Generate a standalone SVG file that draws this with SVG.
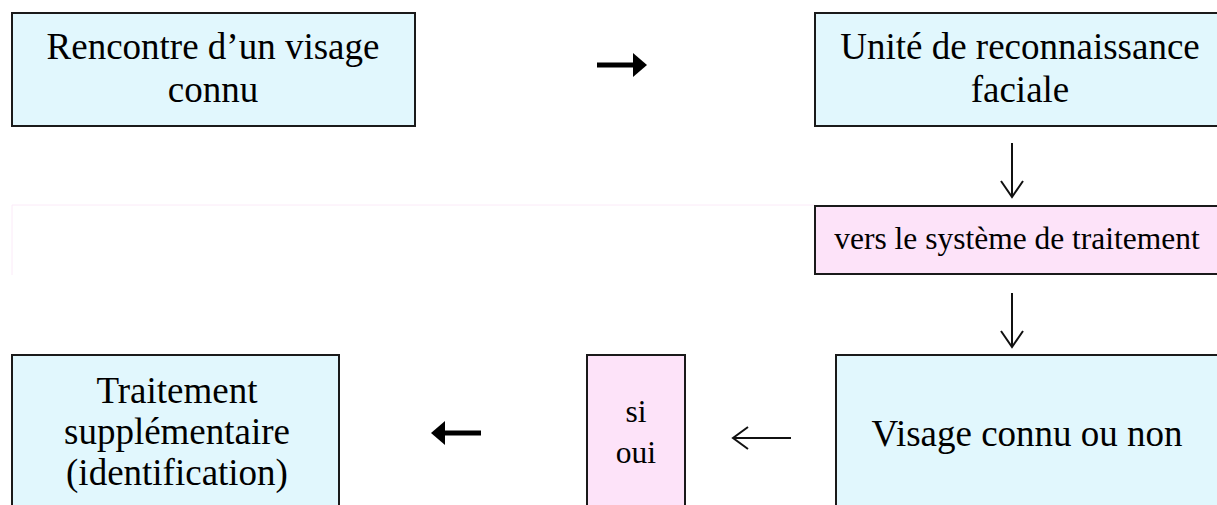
<svg xmlns="http://www.w3.org/2000/svg" width="1217" height="505" viewBox="0 0 1217 505">
<style>
.box{stroke:#1a1a1a;stroke-width:2}
.cyan{fill:#e1f7fd}
.pink{fill:#fde3f9}
text{font-family:"Liberation Serif","Times New Roman",serif;fill:#000;text-anchor:middle}
.big{font-size:37px}
.small{font-size:31.5px}
.thin{stroke:#111;stroke-width:2;fill:none}
.thick{stroke:#000;stroke-width:5;fill:none}
</style>
<rect width="1217" height="505" fill="#ffffff"/>
<path d="M12 275 V205 H815" fill="none" stroke="#fbeaf8" stroke-width="1"/>
<g id="rencontre">
<rect class="box cyan" x="12" y="13" width="403" height="113"/>
<text class="big" x="213" y="59">Rencontre d’un visage</text>
<text class="big" x="213" y="102">connu</text>
</g>
<g id="unite">
<rect class="box cyan" x="815" y="13" width="412" height="113"/>
<text class="big" x="1020" y="59">Unité de reconnaissance</text>
<text class="big" x="1020" y="102">faciale</text>
</g>
<g id="vers">
<rect class="box pink" x="815" y="206" width="412" height="68"/>
<text class="small" x="1017" y="249">vers le système de traitement</text>
</g>
<g id="visage">
<rect class="box cyan" x="836" y="355" width="400" height="170"/>
<text class="big" x="1027" y="446">Visage connu ou non</text>
</g>
<g id="sioui">
<rect class="box pink" x="587" y="355" width="98" height="170"/>
<text class="small" x="636" y="422">si</text>
<text class="small" x="636" y="463">oui</text>
</g>
<g id="traitement">
<rect class="box cyan" x="12" y="355" width="327" height="170"/>
<text class="big" x="177" y="403">Traitement</text>
<text class="big" x="177" y="444">supplémentaire</text>
<text class="big" x="177" y="485">(identification)</text>
</g>
<g id="connectors">
<path class="thick" d="M597 65 H636"/>
<path d="M633 53 L647 65 L633 77 Z" fill="#000"/>
<path class="thin" d="M1012 143 V197 M1001 181 L1012 197 L1023 181"/>
<path class="thin" d="M1012 293 V347 M1001 331 L1012 347 L1023 331"/>
<path class="thin" d="M791 438 H734 M748 427 L733 438 L748 449"/>
<path class="thick" d="M481 433 H442"/>
<path d="M445 421 L431 433 L445 445 Z" fill="#000"/>
</g>
</svg>
